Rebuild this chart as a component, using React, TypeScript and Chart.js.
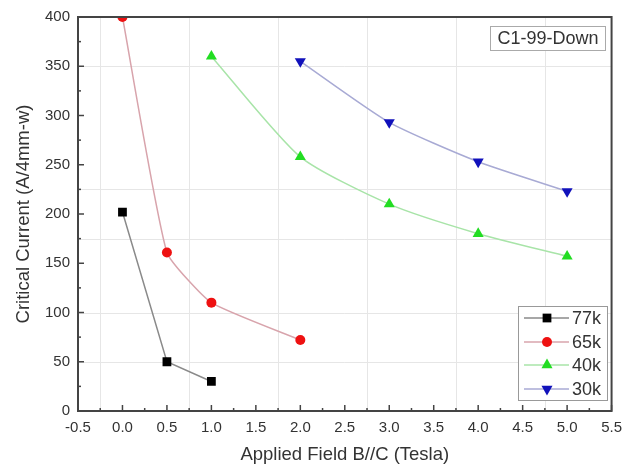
import React, { useEffect, useRef } from "react";
import { Chart, registerables } from "chart.js";

Chart.register(...registerables);

// ---- data ----
const seriesLabels = ["77k", "65k", "40k", "30k"];
const field77 = [0, 0.5, 1];
const current77 = [202, 50, 30];
const field65 = [0, 0.5, 1, 2];
const current65 = [400, 161, 110, 72];
const field40 = [1, 2, 3, 4, 5];
const current40 = [360, 258, 210, 180, 157];
const field30 = [2, 3, 4, 5];
const current30 = [355, 293, 253, 223];

const xMin = -0.5;
const xMax = 5.5;
const xStep = 0.5;
const yMin = 0;
const yMax = 400;
const yStep = 50;
const gridXValues = [-0.25, 0.75, 1.75, 2.75, 3.75, 4.75];
const gridYValues = [50, 100, 175, 225, 350];

const sampleName = "C1-99-Down";
const xTitle = "Applied Field B//C (Tesla)";
const yTitle = "Critical Current (A/4mm-w)";

const FONT = "'Liberation Sans', Arial, sans-serif";
const AXIS_COLOR = "#444";

const markerColors = ["#000000", "#ee1111", "#22dd22", "#1111bb"];
const lineColors = ["#8a8a8a", "#d8a4ac", "#a8e4a8", "#a8aad4"];
const styles = ["rect", "circle", "triangle", "triangle"];
const rotations = [0, 0, 0, 180];
const radii = [6.2, 5, 6.4, 6.4];
const tensions = [0, 0.15, 0.22, 0.2];

function toPoints(xs: number[], ys: number[]) {
  return xs.map((x, i) => ({ x, y: ys[i] }));
}

function drawMarker(ctx: CanvasRenderingContext2D, idx: number, x: number, y: number) {
  ctx.save();
  ctx.fillStyle = markerColors[idx];
  const r = radii[idx];
  ctx.beginPath();
  if (styles[idx] === "rect") {
    const s = r * Math.SQRT2;
    ctx.rect(x - s / 2, y - s / 2, s, s);
  } else if (styles[idx] === "circle") {
    ctx.arc(x, y, r, 0, Math.PI * 2);
  } else {
    const dir = rotations[idx] === 180 ? -1 : 1;
    ctx.moveTo(x, y - dir * r);
    ctx.lineTo(x + r * 0.866, y + dir * r * 0.5);
    ctx.lineTo(x - r * 0.866, y + dir * r * 0.5);
    ctx.closePath();
  }
  ctx.fill();
  ctx.restore();
}

const decorPlugin = {
  id: "decor",
  beforeDatasetsDraw(chart: any) {
    const { ctx, chartArea, scales } = chart;
    const { left, right, top, bottom } = chartArea;
    ctx.save();
    ctx.strokeStyle = "#e6e6e6";
    ctx.lineWidth = 1;
    gridXValues.forEach((v) => {
      const px = Math.round(scales.x.getPixelForValue(v)) + 0.5;
      ctx.beginPath();
      ctx.moveTo(px, top);
      ctx.lineTo(px, bottom);
      ctx.stroke();
    });
    gridYValues.forEach((v) => {
      const py = Math.round(scales.y.getPixelForValue(v)) + 0.5;
      ctx.beginPath();
      ctx.moveTo(left, py);
      ctx.lineTo(right, py);
      ctx.stroke();
    });
    ctx.restore();
  },
  afterDraw(chart: any) {
    const { ctx, chartArea, scales } = chart;
    const { left, right, top, bottom } = chartArea;
    ctx.save();
    // frame
    ctx.strokeStyle = AXIS_COLOR;
    ctx.lineWidth = 2;
    ctx.strokeRect(left, top, right - left, bottom - top);
    // inward ticks
    ctx.lineWidth = 1.5;
    for (let v = xMin; v <= xMax + 1e-9; v += xStep / 2) {
      const px = scales.x.getPixelForValue(v);
      const major = Math.abs(Math.round(v / xStep) * xStep - v) < 1e-9;
      const len = major ? 6 : 3;
      ctx.beginPath();
      ctx.moveTo(px, bottom);
      ctx.lineTo(px, bottom - len);
      ctx.stroke();
    }
    for (let v = yMin; v <= yMax + 1e-9; v += yStep / 2) {
      const py = scales.y.getPixelForValue(v);
      const major = Math.abs(Math.round(v / yStep) * yStep - v) < 1e-9;
      const len = major ? 6 : 3;
      ctx.beginPath();
      ctx.moveTo(left, py);
      ctx.lineTo(left + len, py);
      ctx.stroke();
    }
    // sample label box
    ctx.fillStyle = "#fff";
    ctx.strokeStyle = "#aaa";
    ctx.lineWidth = 1;
    ctx.fillRect(490.5, 26.5, 115, 24);
    ctx.strokeRect(490.5, 26.5, 115, 24);
    ctx.fillStyle = "#333";
    ctx.font = `18px ${FONT}`;
    ctx.textAlign = "center";
    ctx.textBaseline = "middle";
    ctx.fillText(sampleName, 548, 39);
    // legend
    const lx = 518.5, ly = 306.5, lw = 89, lh = 94;
    ctx.fillStyle = "#fff";
    ctx.fillRect(lx, ly, lw, lh);
    ctx.strokeStyle = "#999";
    ctx.strokeRect(lx, ly, lw, lh);
    const rowsY = [318, 342, 365, 389];
    seriesLabels.forEach((lab, i) => {
      const y = rowsY[i];
      ctx.strokeStyle = lineColors[i];
      ctx.lineWidth = 1.5;
      ctx.beginPath();
      ctx.moveTo(524, y);
      ctx.lineTo(569, y);
      ctx.stroke();
      drawMarker(ctx, i, 547, y);
      ctx.fillStyle = "#333";
      ctx.font = `18px ${FONT}`;
      ctx.textAlign = "left";
      ctx.textBaseline = "middle";
      ctx.fillText(lab, 572, y + 1);
    });
    ctx.restore();
  },
};

export default function App() {
  const ref = useRef<HTMLCanvasElement | null>(null);
  useEffect(() => {
    if (!ref.current) return;
    const datasets = [
      toPoints(field77, current77),
      toPoints(field65, current65),
      toPoints(field40, current40),
      toPoints(field30, current30),
    ].map((data, i) => ({
      label: seriesLabels[i],
      data,
      borderColor: lineColors[i],
      backgroundColor: markerColors[i],
      pointBackgroundColor: markerColors[i],
      pointBorderColor: markerColors[i],
      pointBorderWidth: 0,
      pointStyle: styles[i] as any,
      pointRotation: rotations[i],
      pointRadius: radii[i],
      borderWidth: 1.5,
      tension: tensions[i],
      showLine: true,
    }));
    const chart = new Chart(ref.current, {
      type: "scatter",
      data: { datasets },
      plugins: [decorPlugin],
      options: {
        animation: false,
        responsive: false,
        maintainAspectRatio: false,
        layout: { padding: { top: 14, right: 14, left: 0, bottom: 0 } },
        plugins: { legend: { display: false }, tooltip: { enabled: false } },
        scales: {
          x: {
            type: "linear",
            min: xMin,
            max: xMax,
            grid: { display: false, drawTicks: false },
            border: { display: false },
            afterFit: (s: any) => {
              s.height = 56;
            },
            ticks: {
              stepSize: xStep,
              padding: 8,
              color: "#333",
              font: { family: FONT, size: 15 },
              callback: (v: any) => Number(v).toFixed(1),
            },
            title: {
              display: true,
              text: xTitle,
              color: "#333",
              font: { family: FONT, size: 18.5 },
              padding: { top: 2, bottom: 1 },
            },
          },
          y: {
            type: "linear",
            min: yMin,
            max: yMax,
            grid: { display: false, drawTicks: false },
            border: { display: false },
            afterFit: (s: any) => {
              s.width = 78;
            },
            ticks: {
              stepSize: yStep,
              padding: 8,
              color: "#333",
              font: { family: FONT, size: 15 },
            },
            title: {
              display: true,
              text: yTitle,
              color: "#333",
              font: { family: FONT, size: 18.5 },
              padding: { top: 13, bottom: 2 },
            },
          },
        },
      },
    });
    return () => chart.destroy();
  }, []);
  return (
    <div style={{ position: "fixed", left: 0, top: 0, width: 630, height: 467, background: "#fff" }}>
      <canvas ref={ref} width={630} height={467} style={{ display: "block" }} />
    </div>
  );
}
